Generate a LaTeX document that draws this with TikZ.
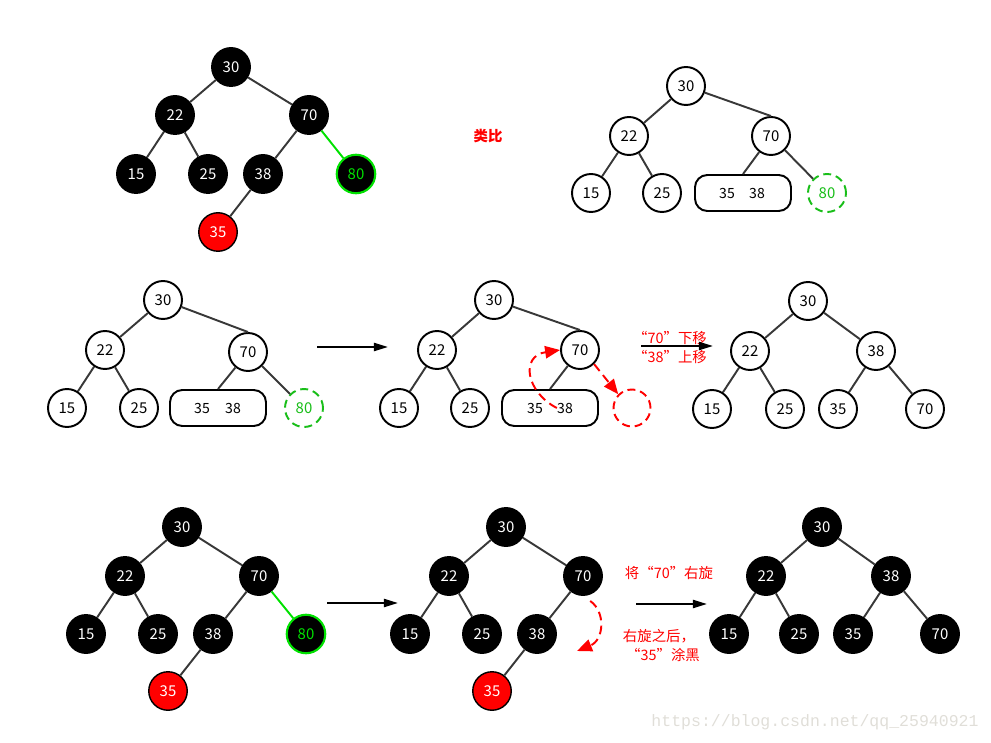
\documentclass[tikz,border=0pt]{standalone}
\usepackage{fontspec}
\setmainfont{Noto Sans CJK SC}
\newfontfamily\markfont{Liberation Mono}
\usetikzlibrary{arrows.meta}
\definecolor{ringgreen}{RGB}{0,225,0}
\definecolor{dashgreen}{RGB}{25,190,25}
\definecolor{markgray}{RGB}{224,222,216}

\begin{document}
\begin{tikzpicture}[x=0.02cm, y=-0.02cm, >={Triangle[length=8pt,width=4.6pt]},
  bnode/.style={circle, fill=black, draw=black, line width=0.8pt, minimum size=0.77cm, inner sep=0pt, text=white, font=\fontsize{8.5}{10}\selectfont},
  wnode/.style={circle, fill=white, draw=black, line width=1.1pt, minimum size=0.76cm, inner sep=0pt, font=\fontsize{8.5}{10}\selectfont},
  rnode/.style={bnode, fill=red},
  gnode/.style={bnode, draw=ringgreen, line width=1.2pt, text=ringgreen},
  dnode/.style={wnode, draw=dashgreen, text=dashgreen, dash pattern=on 4.5pt off 2.8pt},
  pair/.style={draw, rounded corners=7pt, line width=1.1pt, minimum width=1.92cm, minimum height=0.72cm},
  num/.style={inner sep=0pt, font=\fontsize{8}{10}\selectfont},
  edge/.style={black!78, line width=1.1pt},
  note/.style={text=red, font=\fontsize{8.2}{10}\selectfont},
  redarrow/.style={red, line width=1.1pt, dash pattern=on 5pt off 3pt, -{Triangle[length=8.5pt,width=7pt]}}
]
\useasboundingbox (0,0) rectangle (991,743);

% top left: insert 35
\node[bnode] (a30) at (231,67) {30};
\node[bnode] (a22) at (175,115) {22};
\node[bnode] (a70) at (309,115) {70};
\node[bnode] (a15) at (136,174) {15};
\node[bnode] (a25) at (208,174) {25};
\node[bnode] (a38) at (263,174) {38};
\node[gnode] (a80) at (356,174) {80};
\node[rnode] (a35) at (218,232) {35};
\draw[edge] (a30) -- (a22);
\draw[edge] (a30) -- (a70);
\draw[edge] (a22) -- (a15);
\draw[edge] (a22) -- (a25);
\draw[edge] (a70) -- (a38);
\draw[edge] (a38) -- (a35);
\draw[ringgreen, line width=1.1pt] (a70) -- (a80);

\node[text=red, font=\fontsize{8.2}{10}\selectfont\bfseries] (analog) at (488,136) {类比};

% top right: 2-3-4 view
\node[wnode] (b30) at (686,86) {30};
\node[wnode] (b22) at (629,136) {22};
\node[wnode] (b70) at (771,136) {70};
\node[wnode] (b15) at (591,193) {15};
\node[wnode] (b25) at (662,193) {25};
\node[pair] (bbox) at (743,193) {};
\node[num] (b35) at (727,193) {35};
\node[num] (b38) at (757,193) {38};
\node[dnode] (b80) at (827,193) {80};
\draw[edge] (b30) -- (b22);
\draw[edge] (b30) -- (b70.north);
\draw[edge] (b22) -- (b15);
\draw[edge] (b22) -- (b25);
\draw[edge] (b70) -- (bbox.north);
\draw[edge] (b70) -- (b80);

% middle row
\node[wnode] (c30) at (163,300) {30};
\node[wnode] (c22) at (105,350) {22};
\node[wnode] (c70) at (248,352) {70};
\node[wnode] (c15) at (67,408) {15};
\node[wnode] (c25) at (139,408) {25};
\node[pair] (cbox) at (218,408) {};
\node[num] (c35) at (202,408) {35};
\node[num] (c38) at (233,408) {38};
\node[dnode] (c80) at (304,408) {80};
\draw[edge] (c30) -- (c22);
\draw[edge] (c30) -- (c70.north);
\draw[edge] (c22) -- (c15);
\draw[edge] (c22) -- (c25);
\draw[edge] (c70) -- (cbox.north);
\draw[edge] (c70) -- (c80);

\coordinate (s1) at (317,347);
\coordinate (t1) at (388,347);
\draw[->, line width=1.1pt] (s1) -- (t1);

\node[wnode] (d30) at (494,300) {30};
\node[wnode] (d22) at (437,350) {22};
\node[wnode] (d70) at (580,350) {70};
\node[wnode] (d15) at (399,408) {15};
\node[wnode] (d25) at (470,408) {25};
\node[pair] (dbox) at (550,408) {};
\node[num] (d35) at (535,408) {35};
\node[num] (d38) at (565,408) {38};
\node[circle, draw=red, line width=1.1pt, dash pattern=on 4.5pt off 2.8pt, minimum size=0.74cm] (dnew) at (632,408) {};
\draw[edge] (d30) -- (d22);
\draw[edge] (d30) -- (d70.north);
\draw[edge] (d22) -- (d15);
\draw[edge] (d22) -- (d25);
\draw[edge] (d70) -- (dbox.north);
\draw[redarrow] (d38.west) .. controls (526,392) and (520,356) .. (d70.west);
\draw[redarrow] (d70.south east) -- (dnew.north west);

\node[note] (down70) at (670,338) {“70”下移};
\node[note] (up38) at (670,357) {“38”上移};
\coordinate (s2) at (641,346);
\coordinate (t2) at (713,346);
\draw[->, line width=1.1pt] (s2) -- (t2);

\node[wnode] (e30) at (808,301) {30};
\node[wnode] (e22) at (750,351) {22};
\node[wnode] (e38) at (876,351) {38};
\node[wnode] (e15) at (712,409) {15};
\node[wnode] (e25) at (785,409) {25};
\node[wnode] (e35) at (838,409) {35};
\node[wnode] (e70) at (925,409) {70};
\draw[edge] (e30) -- (e22);
\draw[edge] (e30) -- (e38);
\draw[edge] (e22) -- (e15);
\draw[edge] (e22) -- (e25);
\draw[edge] (e38) -- (e35);
\draw[edge] (e38) -- (e70);

% bottom row: right rotation
\node[bnode] (f30) at (182,527) {30};
\node[bnode] (f22) at (125,576) {22};
\node[bnode] (f70) at (259,576) {70};
\node[bnode] (f15) at (86,634) {15};
\node[bnode] (f25) at (158,634) {25};
\node[bnode] (f38) at (213,634) {38};
\node[gnode] (f80) at (306,634) {80};
\node[rnode] (f35) at (168,691) {35};
\draw[edge] (f30) -- (f22);
\draw[edge] (f30) -- (f70);
\draw[edge] (f22) -- (f15);
\draw[edge] (f22) -- (f25);
\draw[edge] (f70) -- (f38);
\draw[edge] (f38) -- (f35);
\draw[ringgreen, line width=1.1pt] (f70) -- (f80);

\coordinate (s3) at (327,603);
\coordinate (t3) at (398,603);
\draw[->, line width=1.1pt] (s3) -- (t3);

\node[bnode] (g30) at (506,527) {30};
\node[bnode] (g22) at (449,576) {22};
\node[bnode] (g70) at (583,576) {70};
\node[bnode] (g15) at (410,634) {15};
\node[bnode] (g25) at (482,634) {25};
\node[bnode] (g38) at (537,634) {38};
\node[rnode] (g35) at (492,691) {35};
\draw[edge] (g30) -- (g22);
\draw[edge] (g30) -- (g70);
\draw[edge] (g22) -- (g15);
\draw[edge] (g22) -- (g25);
\draw[edge] (g70) -- (g38);
\draw[edge] (g38) -- (g35);
\coordinate (gend) at (577,651);
\draw[redarrow, shorten <=5pt] (g70.south) .. controls (606,612) and (604,640) .. (gend);

\node[note] (rot70) at (669,573) {将“70”右旋};
\coordinate (s4) at (636,604);
\coordinate (t4) at (707,604);
\draw[->, line width=1.1pt] (s4) -- (t4);
\node[note] (after) at (659,636) {右旋之后，};
\node[note] (paint35) at (663,655) {“35”涂黑};

\node[bnode] (h30) at (822,527) {30};
\node[bnode] (h22) at (766,576) {22};
\node[bnode] (h38) at (891,576) {38};
\node[bnode] (h15) at (729,634) {15};
\node[bnode] (h25) at (799,634) {25};
\node[bnode] (h35) at (853,634) {35};
\node[bnode] (h70) at (940,634) {70};
\draw[edge] (h30) -- (h22);
\draw[edge] (h30) -- (h38);
\draw[edge] (h22) -- (h15);
\draw[edge] (h22) -- (h25);
\draw[edge] (h38) -- (h35);
\draw[edge] (h38) -- (h70);

\node[text=markgray, font=\markfont\fontsize{9.4}{11}\selectfont] (mark) at (815,722) {https://blog.csdn.net/qq\_25940921};
\end{tikzpicture}
\end{document}
